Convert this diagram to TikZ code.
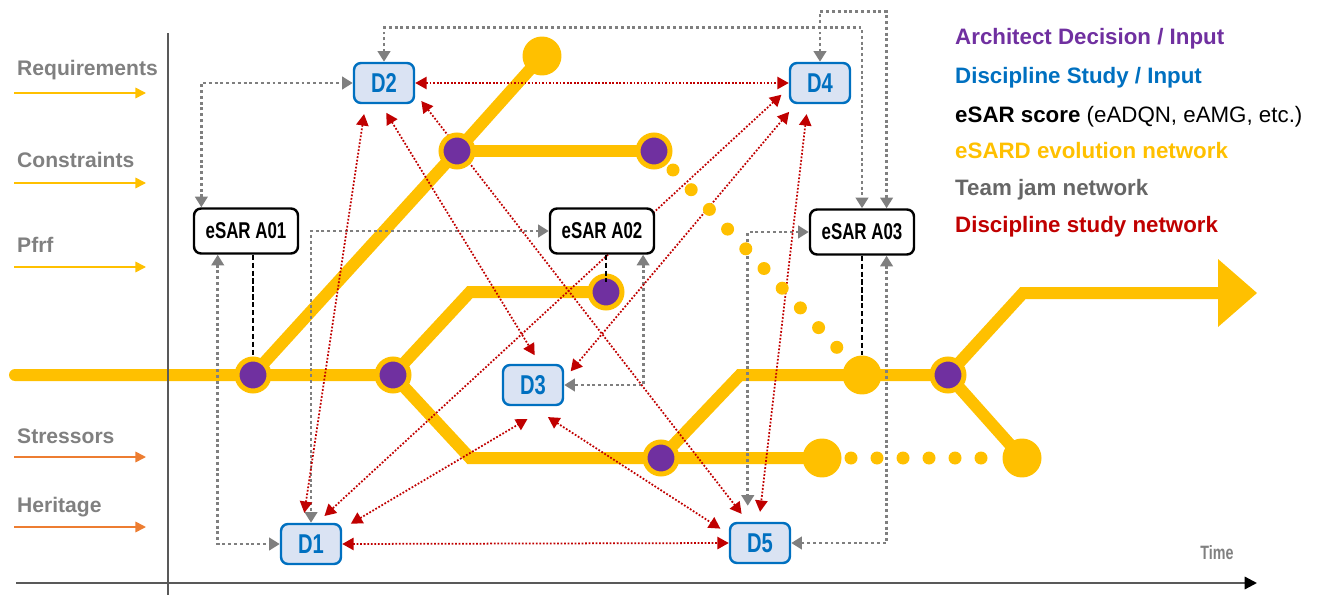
\documentclass[tikz,border=0pt]{standalone}
\usepackage{fontspec}
\setmainfont{Liberation Sans}
\newfontfamily\narrowsans[FakeStretch=0.74]{Liberation Sans}
\usetikzlibrary{arrows.meta}

\definecolor{esardgold}{HTML}{FFC000}
\definecolor{archpurple}{HTML}{7030A0}
\definecolor{discblue}{HTML}{0070C0}
\definecolor{discfill}{HTML}{DAE3F3}
\definecolor{jamgray}{HTML}{7F7F7F}
\definecolor{teamgray}{HTML}{666666}
\definecolor{studyred}{HTML}{C00000}
\definecolor{stressorange}{HTML}{ED7D31}
\definecolor{labelgray}{HTML}{808080}
\definecolor{axisgray}{HTML}{595959}

\pgfdeclarelayer{network}
\pgfdeclarelayer{links}
\pgfsetlayers{network,links,main}

\tikzset{
    evolution/.style={draw=esardgold, line width=0.24cm},
    decision/.style={circle, inner sep=0pt, minimum size=0.64cm, fill=archpurple, draw=esardgold, line width=0.1cm},
    bigdot/.style={circle, inner sep=0pt, minimum size=0.78cm, fill=esardgold},
    smalldot/.style={circle, inner sep=0pt, minimum size=0.26cm, fill=esardgold},
    study/.style={rounded corners=4pt, draw=discblue, fill=discfill, line width=1.4pt, minimum width=1.2cm, minimum height=0.8cm, text=discblue, font={\narrowsans\bfseries\fontsize{15.5}{17}\selectfont}},
    score/.style={rounded corners=4pt, draw=black, fill=white, line width=1.4pt, minimum width=2.08cm, minimum height=0.9cm, font={\narrowsans\bfseries\fontsize{13}{15}\selectfont}},
    jamlink/.style={draw=jamgray, line width=1.7pt, dash pattern=on 1.7pt off 1.6pt, {Triangle[length=6pt,width=7pt]}-{Triangle[length=6pt,width=7pt]}},
    studylink/.style={draw=studyred, line width=1pt, dash pattern=on 1pt off 1pt, {Triangle[length=6.5pt,width=7pt]}-{Triangle[length=6.5pt,width=7pt]}, shorten <=0.2cm, shorten >=0.2cm},
    scorelink/.style={draw=black, line width=0.8pt, dash pattern=on 3pt off 1.5pt},
    inputlabel/.style={anchor=base west, text=labelgray, font={\bfseries\fontsize{12}{14}\selectfont}},
    inputarrow/.style={line width=0.9pt, -{Triangle[length=6pt,width=6pt]}},
    legend/.style={anchor=base west, font={\bfseries\fontsize{12.7}{15}\selectfont}},
}

\begin{document}
\begin{tikzpicture}[x=0.02cm, y=-0.02cm]
    \useasboundingbox (0,0) rectangle (1320,595);

    % Time axes
    \draw[axisgray, line width=1.1pt] (168,33) -- (168,595);
    \draw[axisgray, line width=1.3pt, -{Triangle[length=7pt,width=7pt,color=black]}] (16,583) -- (1257,583);
    \node[text=labelgray, font={\narrowsans\bfseries\fontsize{11}{12}\selectfont}] (time) at (1217,553) {Time};

    % Inputs on the left
    \foreach \lbl/\ly/\ay/\col in {Requirements/75/93/esardgold, Constraints/167/183/esardgold, Pfrf/252/267/esardgold, Stressors/443/457/stressorange, Heritage/512/527/stressorange}
        {
            \node[inputlabel] (in-\lbl) at (11,\ly) {\lbl};
            \draw[inputarrow, \col] (14,\ay) -- (146,\ay);
        }

    % Legend
    \node[legend, text=archpurple] (leg-arch) at (949,45) {Architect Decision / Input};
    \node[legend, text=discblue] (leg-disc) at (949,83) {Discipline Study / Input};
    \node[legend] (leg-score) at (949,122) {eSAR score \mdseries(eADQN, eAMG, etc.)};
    \node[legend, text=esardgold] (leg-evo) at (949,158) {eSARD evolution network};
    \node[legend, text=teamgray] (leg-jam) at (949,195) {Team jam network};
    \node[legend, text=studyred] (leg-study) at (949,232) {Discipline study network};

    % Points of the eSARD evolution network
    \coordinate (p1) at (253,375);
    \coordinate (p2) at (393,375);
    \coordinate (p3) at (457,151);
    \coordinate (p4) at (654,151);
    \coordinate (p5) at (606,292);
    \coordinate (p6) at (661,458);
    \coordinate (p7) at (948,375);
    \coordinate (e1) at (542,56);
    \coordinate (e2) at (862,375);
    \coordinate (e3) at (822,458);
    \coordinate (e4) at (1022,458);

    \begin{pgfonlayer}{network}
        \draw[evolution, line cap=round] (15,375) -- (p2) -- (470,458) -- (e3);
        \draw[evolution] (p2) -- (470,292) -- (p5);
        \draw[evolution] (p1) -- (p3) -- (e1);
        \draw[evolution] (p3) -- (p4);
        \draw[evolution] (p6) -- (740,375) -- (p7) -- (1023,293) -- (1218,293);
        \draw[evolution] (p7) -- (e4);
        \fill[esardgold] (1218,259) -- (1257,293) -- (1218,327) -- cycle;
    \end{pgfonlayer}

    % Dotted tails of the network
    \foreach \i in {0,...,9}
        {
            \node[smalldot] (tail-\i) at ({673+18.2*\i},{170+19.7*\i}) {};
        }
    \foreach \x in {851,877,903,929,955,981}
        {
            \node[smalldot] (trail-\x) at (\x,458) {};
        }
    \node[bigdot] (E1) at (e1) {};
    \node[bigdot] (E2) at (e2) {};
    \node[bigdot] (E3) at (e3) {};
    \node[bigdot] (E4) at (e4) {};

    % Architect decisions
    \foreach \n in {1,...,7}
        {
            \node[decision] (P\n) at (p\n) {};
        }

    % Discipline studies and eSAR scores
    \node[study] (D2) at (384,83) {D2};
    \node[study] (D4) at (820,83) {D4};
    \node[study] (D3) at (533,385) {D3};
    \node[study] (D1) at (311,544) {D1};
    \node[study] (D5) at (760,543) {D5};
    \node[score] (A01) at (246,231) {eSAR A01};
    \node[score] (A02) at (602,231) {eSAR A02};
    \node[score] (A03) at (862,232) {eSAR A03};

    \draw[scorelink] (A01.south -| P1) -- (P1.north);
    \draw[scorelink, shorten >=0.2cm] (A02.south -| P5) -- (P5.center);
    \draw[scorelink] (A03.south -| E2) -- (E2.north);

    \begin{pgfonlayer}{links}
        % Team jam network
        \draw[jamlink] (A01.152) |- (D2.west);
        \draw[jamlink] (D2.north) -- ++(0,-34) -| (A03.north);
        \draw[jamlink] (D4.north) -- ++(0,-50) -| (A03.44);
        \draw[jamlink] (A01.220) |- (D1.west);
        \draw[jamlink] (A02.west) -| (D1.north);
        \draw[jamlink] (A02.330) |- (D3.east);
        \draw[jamlink, shorten >=0.32cm] (A03.west) -| (D5.120);
        \draw[jamlink] (A03.316) |- (D5.east);

        % Discipline study network
        \draw[studylink, shorten <=0pt, shorten >=0pt] (D2.east) -- (D4.west);
        \draw[studylink, shorten <=0pt, shorten >=0pt] (D1.east) -- (D5.west);
        \draw[studylink] (D2.229) -- (D1.111);
        \draw[studylink] (D2.262) -- (D3.72);
        \draw[studylink] (D2.342) -- (D5.120);
        \draw[studylink] (D4.189) -- (D1.74);
        \draw[studylink] (D4.221) -- (D3.11);
        \draw[studylink] (D4.240) -- (D5.93);
        \draw[studylink, shorten >=0.5cm] (D1.26) -- (D3.307);
        \draw[studylink, shorten <=0.4cm] (D3.265) -- (D5.164);
    \end{pgfonlayer}
\end{tikzpicture}
\end{document}
